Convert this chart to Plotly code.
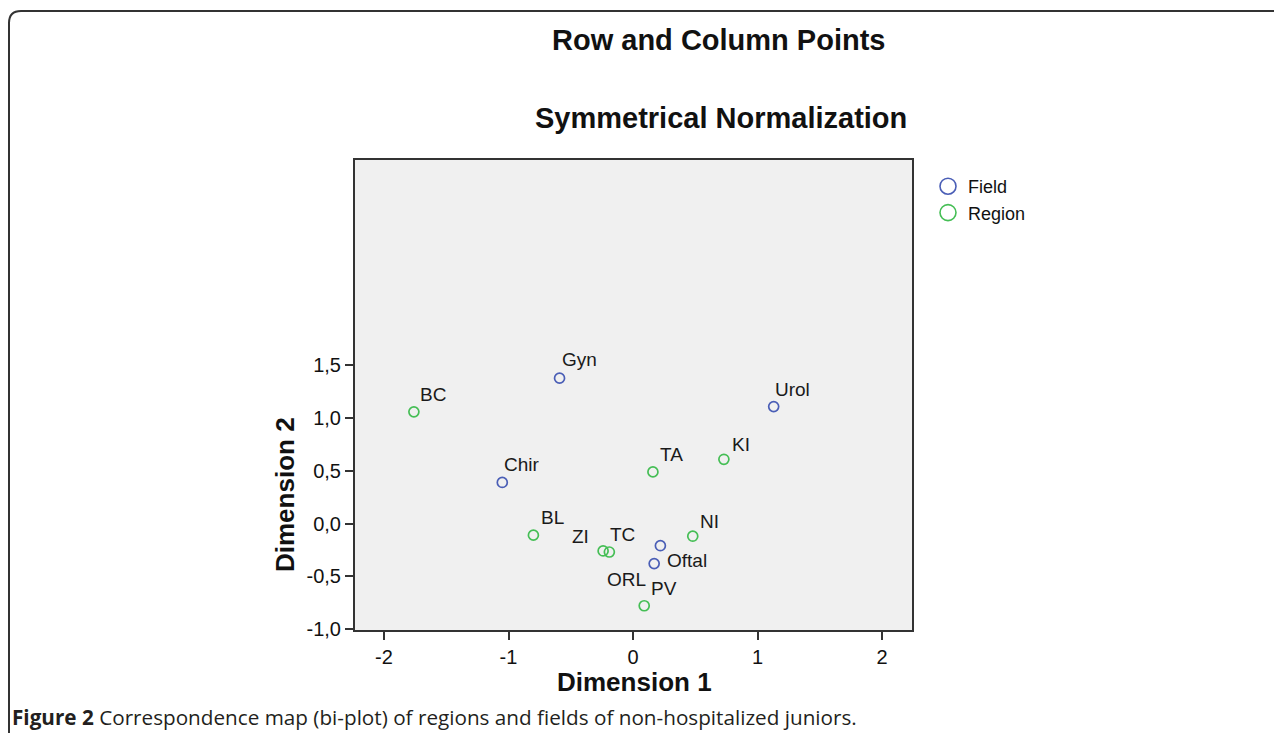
import plotly.graph_objects as go

# ---- data ----
field_labels = ["Gyn", "Chir", "Urol", "Oftal", "ORL"]
field_x = [-0.59, -1.05, 1.13, 0.22, 0.17]
field_y = [1.38, 0.39, 1.11, -0.21, -0.38]

region_labels = ["BC", "BL", "TA", "KI", "NI", "ZI", "TC", "PV"]
region_x = [-1.76, -0.80, 0.16, 0.73, 0.48, -0.24, -0.19, 0.09]
region_y = [1.06, -0.11, 0.49, 0.61, -0.12, -0.26, -0.27, -0.78]

x_tickvals = [-2, -1, 0, 1, 2]
x_ticktext = ["-2", "-1", "0", "1", "2"]
y_tickvals = [-1.0, -0.5, 0.0, 0.5, 1.0, 1.5]
y_ticktext = ["-1,0", "-0,5", "0,0", "0,5", "1,0", "1,5"]

title1 = "Row and Column Points"
title2 = "Symmetrical Normalization"
caption = "<b>Figure 2</b> Correspondence map (bi-plot) of regions and fields of non-hospitalized juniors."

# ---- styles ----
BLUE = "#4A5EB6"
GREEN = "#45BE55"
FONT = "Liberation Sans, Arial, sans-serif"

# label pixel offsets (dx, dy up) relative to each point
label_offsets = {
    "Gyn": (20, 19), "Chir": (20, 18), "Urol": (19, 17), "Oftal": (27, -15), "ORL": (-28, -16),
    "BC": (19, 17), "BL": (19, 18), "TA": (19, 17), "KI": (17, 15), "NI": (17, 15),
    "ZI": (-23, 14), "TC": (13, 18), "PV": (20, 17),
}

OFF = 8  # page body margin offset
W, H = 1282, 733
L, T = 355 - OFF, 160 - OFF
R, B = W - (912 - OFF), H - (630 - OFF)
PW, PH = W - L - R, H - T - B


def px(xp):
    return (xp - OFF - L) / PW


def py(yp):
    return (H - B - (yp - OFF)) / PH


fig = go.Figure()

fig.add_trace(go.Scatter(
    x=field_x, y=field_y, mode="markers", showlegend=False, name="Field",
    marker=dict(symbol="circle-open", size=10, color=BLUE, line=dict(width=1.7, color=BLUE)),
    hoverinfo="skip"))
fig.add_trace(go.Scatter(
    x=region_x, y=region_y, mode="markers", showlegend=False, name="Region",
    marker=dict(symbol="circle-open", size=10, color=GREEN, line=dict(width=1.7, color=GREEN)),
    hoverinfo="skip"))
# legend entries
fig.add_trace(go.Scatter(
    x=[None], y=[None], mode="markers", name="Field",
    marker=dict(symbol="circle-open", size=18, color=BLUE, line=dict(width=1.6, color=BLUE))))
fig.add_trace(go.Scatter(
    x=[None], y=[None], mode="markers", name="Region",
    marker=dict(symbol="circle-open", size=18, color=GREEN, line=dict(width=1.6, color=GREEN))))

annotations = []
for labs, xs, ys in ((field_labels, field_x, field_y), (region_labels, region_x, region_y)):
    for lab, xv, yv in zip(labs, xs, ys):
        dx, dy = label_offsets[lab]
        annotations.append(dict(
            x=xv, y=yv, xref="x", yref="y", text=lab, showarrow=False,
            xshift=dx, yshift=dy, font=dict(family=FONT, size=19, color="#1a1a1a")))

annotations += [
    dict(x=px(719), y=py(40), xref="paper", yref="paper", text=f"<b>{title1}</b>",
         showarrow=False, xanchor="center", yanchor="middle",
         font=dict(family=FONT, size=29, color="#111")),
    dict(x=px(721), y=py(118), xref="paper", yref="paper", text=f"<b>{title2}</b>",
         showarrow=False, xanchor="center", yanchor="middle",
         font=dict(family=FONT, size=29, color="#111")),
    dict(x=px(634), y=py(682), xref="paper", yref="paper", text="<b>Dimension 1</b>",
         showarrow=False, xanchor="center", yanchor="middle",
         font=dict(family=FONT, size=26, color="#111")),
    dict(x=px(285), y=py(495), xref="paper", yref="paper", text="<b>Dimension 2</b>",
         showarrow=False, xanchor="center", yanchor="middle", textangle=-90,
         font=dict(family=FONT, size=26, color="#111")),
    dict(x=px(10), y=py(717), xref="paper", yref="paper", text=caption,
         showarrow=False, xanchor="left", yanchor="middle",
         font=dict(family="Open Sans, sans-serif", size=20.7, color="#231f20")),
]

# rounded frame (top-left corner visible)
r = 12
x0, y0 = px(9), py(11)
x1, y1 = px(1320), py(790)
path = (f"M {x0},{y1} L {x0},{py(11 + r)} Q {x0},{y0} {px(9 + r)},{y0} L {x1},{y0}")

fig.update_layout(
    width=W, height=H, autosize=False,
    margin=dict(l=L, r=R, t=T, b=B, pad=0),
    paper_bgcolor="white", plot_bgcolor="#F0F0F0",
    font=dict(family=FONT, color="#111"),
    annotations=annotations,
    shapes=[dict(type="path", path=path, xref="paper", yref="paper",
                 line=dict(color="#333", width=2), fillcolor="rgba(0,0,0,0)", layer="above")],
    legend=dict(x=px(928), y=py(168), xanchor="left", yanchor="top",
                font=dict(family=FONT, size=18, color="#111"),
                bgcolor="rgba(0,0,0,0)", tracegroupgap=0),
    xaxis=dict(range=[-2.233, 2.241], tickvals=x_tickvals, ticktext=x_ticktext,
               showgrid=False, zeroline=False, showline=True, mirror=True,
               linecolor="#333", linewidth=2, ticks="outside", ticklen=8, tickwidth=2,
               tickcolor="#333", tickfont=dict(family=FONT, size=20, color="#111")),
    yaxis=dict(range=[-1.01, 3.45], tickvals=y_tickvals, ticktext=y_ticktext,
               showgrid=False, zeroline=False, showline=True, mirror=True,
               linecolor="#333", linewidth=2, ticks="outside", ticklen=8, tickwidth=2,
               tickcolor="#333", tickfont=dict(family=FONT, size=20, color="#111")),
)

fig.write_html("out.html")
